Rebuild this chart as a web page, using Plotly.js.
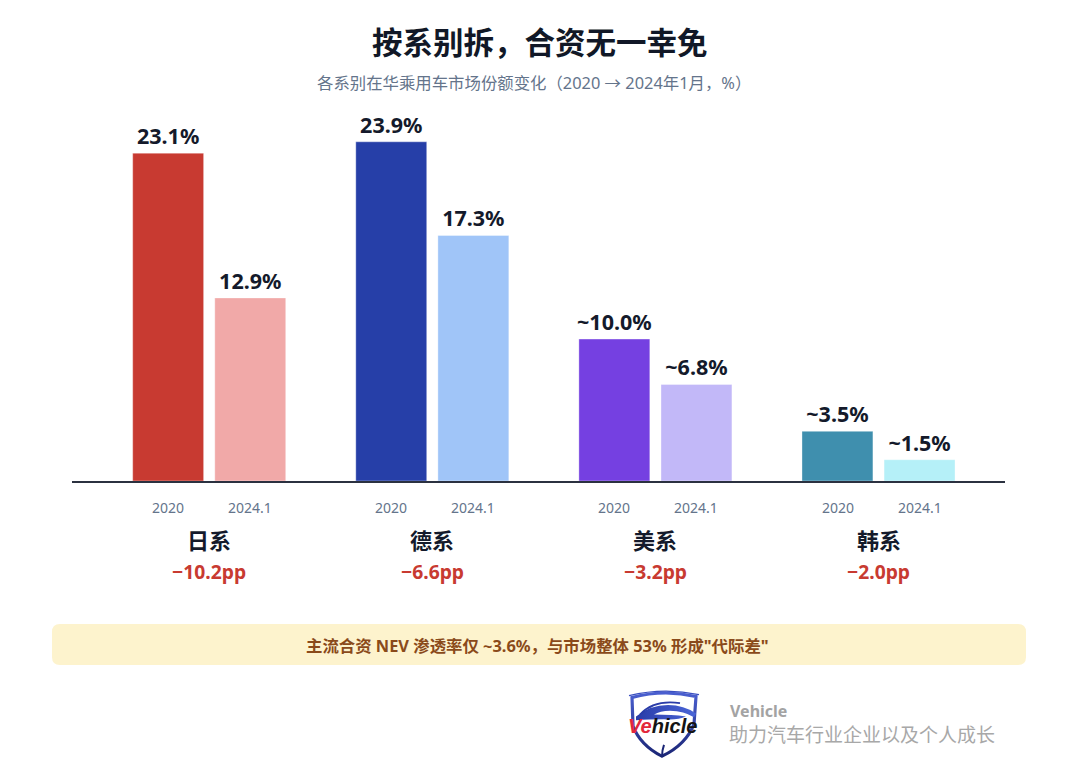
<!DOCTYPE html>
<html>
<head>
<meta charset="utf-8">
<script src="https://cdn.plot.ly/plotly-3.0.1.min.js"></script>
<style>html,body{margin:0;padding:0;background:#fff;}#chart{width:1080px;height:770px;}</style>
</head>
<body>
<div id="chart"></div>
<script>
// ---- data ----
const groups = ['日系', '德系', '美系', '韩系'];
const periods = ['2020', '2024.1'];
const share2020 = [23.1, 23.9, 10.0, 3.5];
const share2024 = [12.9, 17.3, 6.8, 1.5];
const labels2020 = ['23.1%', '23.9%', '~10.0%', '~3.5%'];
const labels2024 = ['12.9%', '17.3%', '~6.8%', '~1.5%'];
const changes = ['−10.2pp', '−6.6pp', '−3.2pp', '−2.0pp'];
const colors2020 = ['#C83A31', '#263FA8', '#7540E1', '#3F8FAE'];
const colors2024 = ['#F1A9A8', '#A0C5F8', '#C2B8F8', '#B5F0F8'];
const titleText = '按系别拆，合资无一幸免';
const subtitleText = '各系别在华乘用车市场份额变化（2020 → 2024年1月，%）';
const bannerText = '主流合资 NEV 渗透率仅 ~3.6%，与市场整体 53% 形成"代际差"';
const brandName = 'Vehicle';
const brandSlogan = '助力汽车行业企业以及个人成长';

// ---- layout geometry (pixels) ----
const W = 1080, H = 770;
const L = 72, R = 1005, T = 112, B = 481;
const px = x => (x - L) / (R - L);
const py = y => (B - y) / (B - T);
const FONT = 'Noto Sans, Noto Sans CJK SC, sans-serif';

const traces = [
  {
    type: 'bar', name: periods[0], x: groups, y: share2020,
    text: labels2020, texttemplate: '<b>%{text}</b>', textposition: 'outside',
    textfont: {family: FONT, size: 21.5, color: '#141a2b'},
    marker: {color: colors2020, line: {width: 1, color: 'rgba(255,255,255,0.35)'}},
    cliponaxis: false, constraintext: 'none', hoverinfo: 'skip'
  },
  {
    type: 'bar', name: periods[1], x: groups, y: share2024,
    text: labels2024, texttemplate: '<b>%{text}</b>', textposition: 'outside',
    textfont: {family: FONT, size: 21.5, color: '#141a2b'},
    marker: {color: colors2024, line: {width: 1, color: 'rgba(255,255,255,0.35)'}},
    cliponaxis: false, constraintext: 'none', hoverinfo: 'skip'
  }
];

const annotations = [];
// title & subtitle
annotations.push({xref: 'paper', yref: 'paper', x: px(540), y: py(42), xanchor: 'center', yanchor: 'middle',
  text: '<b>' + titleText + '</b>', showarrow: false, font: {family: FONT, size: 30.5, color: '#111827'}});
annotations.push({xref: 'paper', yref: 'paper', x: px(534), y: py(82), xanchor: 'center', yanchor: 'middle',
  text: subtitleText, showarrow: false, font: {family: FONT, size: 16.4, color: '#64748b'}});

// per-group labels
groups.forEach((g, i) => {
  periods.forEach((p, j) => {
    annotations.push({xref: 'x', yref: 'paper', x: g, xshift: j === 0 ? -41 : 41, y: py(507),
      xanchor: 'center', yanchor: 'middle', text: p, showarrow: false,
      font: {family: FONT, size: 14, color: '#64748b'}});
  });
  annotations.push({xref: 'x', yref: 'paper', x: g, y: py(540), xanchor: 'center', yanchor: 'middle',
    text: '<b>' + g + '</b>', showarrow: false, font: {family: FONT, size: 22, color: '#141a2b'}});
  annotations.push({xref: 'x', yref: 'paper', x: g, y: py(571), xanchor: 'center', yanchor: 'middle',
    text: '<b>' + changes[i] + '</b>', showarrow: false, font: {family: FONT, size: 19.3, color: '#C83A31'}});
});

// banner text
annotations.push({xref: 'paper', yref: 'paper', x: px(537), y: py(645), xanchor: 'center', yanchor: 'middle',
  text: '<b>' + bannerText + '</b>', showarrow: false, font: {family: FONT, size: 16.4, color: '#8a4a1a'}});

// logo word
annotations.push({xref: 'paper', yref: 'paper', x: px(662), y: py(726), xanchor: 'center', yanchor: 'middle',
  text: '<b><i><span style="color:#e3283b">Ve</span>hicle</i></b>', showarrow: false,
  font: {family: 'Liberation Sans, Arial, sans-serif', size: 20, color: '#141414'}});
// brand text
annotations.push({xref: 'paper', yref: 'paper', x: px(728), y: py(711), xanchor: 'left', yanchor: 'middle',
  text: '<b>' + brandName + '</b>', showarrow: false, font: {family: FONT, size: 16, color: '#a3a3a3'}});
annotations.push({xref: 'paper', yref: 'paper', x: px(727), y: py(735), xanchor: 'left', yanchor: 'middle',
  text: brandSlogan, showarrow: false, font: {family: FONT, size: 19, color: '#a8a8a8'}});

// banner rounded rect
function roundRect(x0, y0, x1, y1, r) {
  const X = v => px(v), Y = v => py(v);
  return `M${X(x0 + r)},${Y(y0)} L${X(x1 - r)},${Y(y0)} Q${X(x1)},${Y(y0)} ${X(x1)},${Y(y0 + r)} ` +
    `L${X(x1)},${Y(y1 - r)} Q${X(x1)},${Y(y1)} ${X(x1 - r)},${Y(y1)} L${X(x0 + r)},${Y(y1)} ` +
    `Q${X(x0)},${Y(y1)} ${X(x0)},${Y(y1 - r)} L${X(x0)},${Y(y0 + r)} Q${X(x0)},${Y(y0)} ${X(x0 + r)},${Y(y0)} Z`;
}
const shapes = [{type: 'path', xref: 'paper', yref: 'paper', path: roundRect(52, 624, 1026, 665, 8),
  fillcolor: '#FDF3CD', line: {width: 0}, layer: 'below'}];

// logo shield graphic
const svg = `<svg xmlns="http://www.w3.org/2000/svg" width="80" height="76" viewBox="0 0 80 76">
<defs><linearGradient id="g" x1="0" y1="0" x2="0" y2="1"><stop offset="0" stop-color="#4a5fd0"/><stop offset="1" stop-color="#1b2676"/></linearGradient>
<linearGradient id="c" x1="0" y1="0" x2="1" y2="0"><stop offset="0" stop-color="#2a3ca8"/><stop offset="1" stop-color="#4a66d8"/></linearGradient></defs>
<path d="M8 10 Q40 1 72 9 L70 38 Q62 60 38 72 Q16 60 9 40 Z" fill="none" stroke="url(#g)" stroke-width="3.2"/>
<path d="M5 8 Q40 -1 75 7" fill="none" stroke="#3a4fc0" stroke-width="1.2"/>
<path d="M12 30 Q26 18 44 18 Q60 18 72 27 L70 31 Q60 24 46 24 Q36 24 30 28 Q48 28 62 30 Q54 34 40 33 Q24 33 12 34 Z" fill="url(#c)"/>
<path d="M16 28 Q30 12 56 16" fill="none" stroke="#2a3ca8" stroke-width="2"/>
<path d="M40 60 Q38 66 38 72" fill="none" stroke="#1b2676" stroke-width="2"/>
</svg>`;
const images = [{source: 'data:image/svg+xml;base64,' + btoa(svg), xref: 'paper', yref: 'paper',
  x: px(624), y: py(688), sizex: (80) / (R - L), sizey: (72) / (B - T), xanchor: 'left', yanchor: 'top',
  sizing: 'stretch', layer: 'below'}];

const layout = {
  width: W, height: H,
  margin: {l: L, r: W - R, t: T, b: H - B, pad: 0},
  paper_bgcolor: '#ffffff', plot_bgcolor: '#ffffff',
  barmode: 'group', bargap: 0.264, bargroupgap: 0.136,
  showlegend: false, hovermode: false,
  font: {family: FONT},
  xaxis: {type: 'category', range: [-0.615, 3.567], showticklabels: false, ticks: '',
    showline: true, linecolor: '#2b3140', linewidth: 2, showgrid: false, zeroline: false, fixedrange: true},
  yaxis: {range: [0, 26], visible: false, showgrid: false, zeroline: false, fixedrange: true},
  annotations: annotations, shapes: shapes, images: images
};

Plotly.newPlot('chart', traces, layout, {displayModeBar: false, staticPlot: true});
</script>
</body>
</html>
